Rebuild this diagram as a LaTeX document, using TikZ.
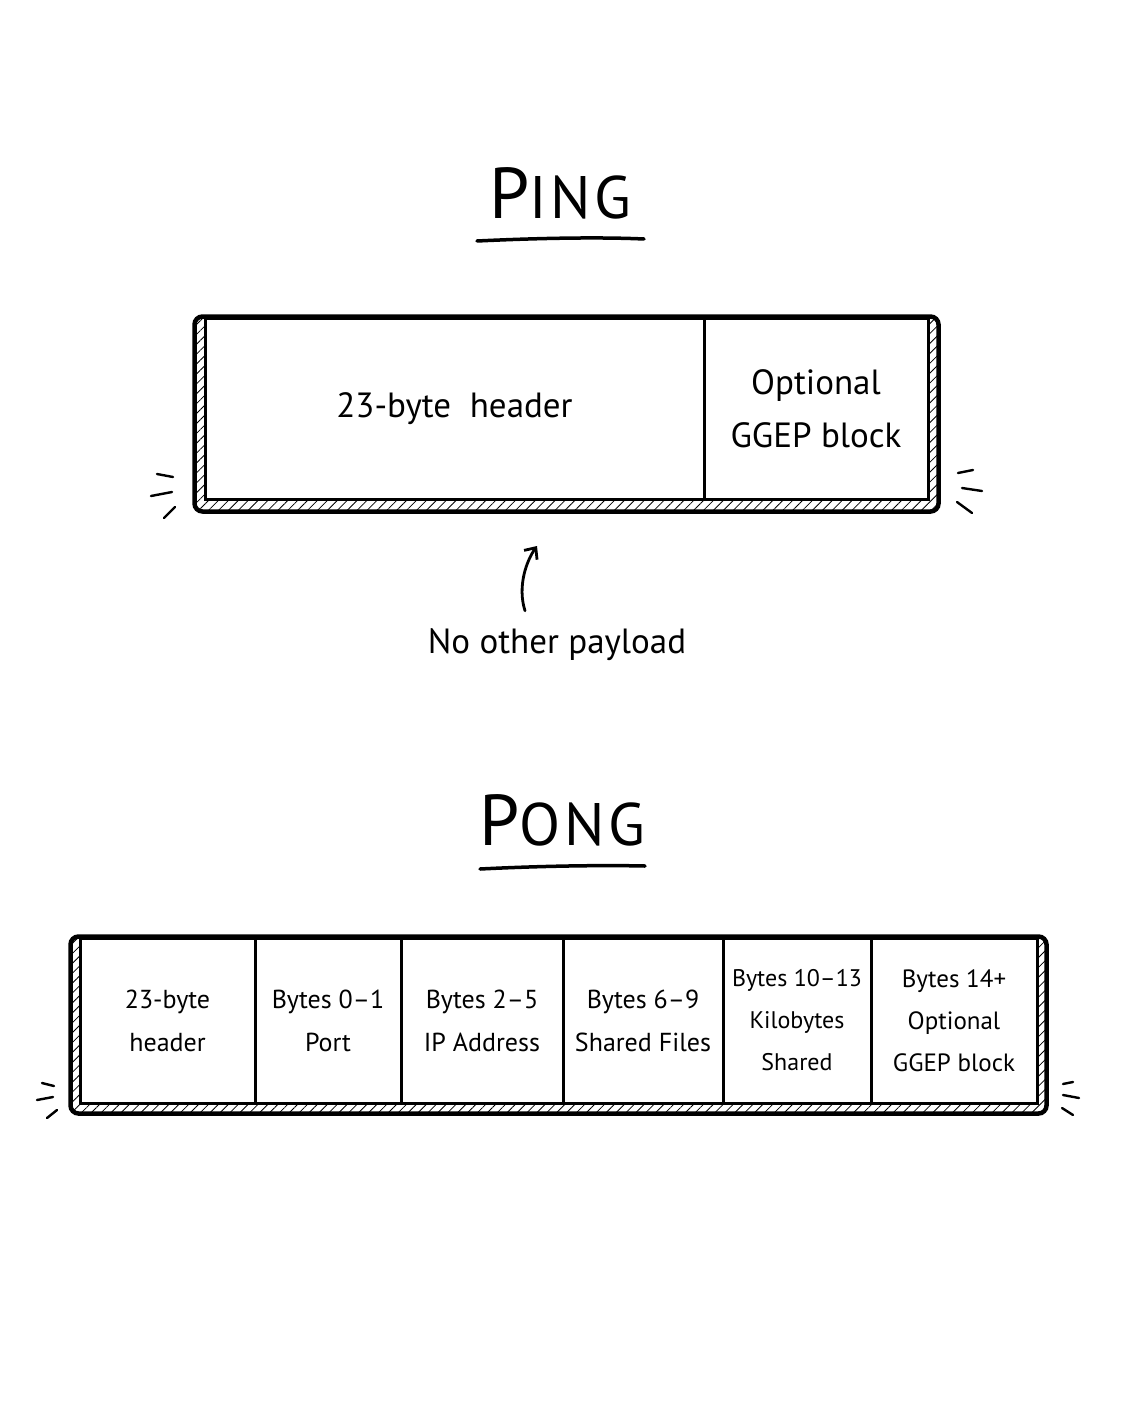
\documentclass[tikz,border=0pt]{standalone}
\usepackage{fontspec}
\setmainfont{PT Sans}
\usetikzlibrary{arrows.meta, patterns.meta, backgrounds}

\tikzset{
    cell/.style={shape=rectangle, draw=black, fill=white, line width=3pt, inner sep=0pt, align=center},
    pingcell/.style={cell, minimum height=181pt, font=\fontsize{35}{53}\selectfont},
    pongcell/.style={cell, minimum height=165pt, font=\fontsize{26}{43}\selectfont},
    rim/.style={draw=black, line width=4.5pt, rounded corners=8pt, pattern={Lines[angle=45, distance=7pt, line width=0.8pt]}},
    heading/.style={shape=rectangle, inner sep=0pt, anchor=base, font=\addfontfeatures{LetterSpace=6}},
    flick/.style={draw=black, line width=2.4pt, line cap=round},
    underline/.style={draw=black, line width=3.5pt, line cap=round},
}

\begin{document}
\begin{tikzpicture}[x=1pt, y=-1pt]
        \useasboundingbox (0, 0) rectangle (1122, 1402);
        % ping message
        \node[name=pingttl, heading] at (560, 218) {\fontsize{72}{72}\selectfont P\fontsize{60}{60}\selectfont ING};
        \draw[underline] (477, 241) .. controls (540, 238) and (600, 237) .. (644, 239);
        \node[name=pinghdr, pingcell, minimum width=499pt] at (454.5, 408.5) {23-byte\ \ header};
        \node[name=pingggep, pingcell, minimum width=224pt] at (816, 408.5) {Optional\\GGEP block};
        \begin{scope}[on background layer]
            \draw[rim] ([xshift=-9pt]pinghdr.north west) rectangle ([xshift=9pt, yshift=-11pt]pingggep.south east);
        \end{scope}
        \draw[flick] (157, 474) -- (173, 477);
        \draw[flick] (151, 496) -- (172, 492);
        \draw[flick] (164, 518) -- (175, 507);
        \draw[flick] (958, 473) -- (973, 470);
        \draw[flick] (962, 488) -- (982, 491);
        \draw[flick] (957, 502) -- (972, 513);
        \node[name=nopay, font=\fontsize{35}{35}\selectfont, inner sep=0pt] at (557, 645) {No other payload};
        \coordinate (nopaytip) at (537, 546);
        \draw[-{Straight Barb[length=9pt, width=16pt]}, line width=2.8pt, line cap=round] ([xshift=-32pt, yshift=18pt]nopay.north) .. controls +(-8, -25) and +(-10, 14) .. (nopaytip);
        % \node[name=nopay, font=\fontsize{31}{31}\selectfont] at (455, 560) {No other payload};
        % pong message
        \node[name=pongttl, heading] at (562, 845) {\fontsize{72}{72}\selectfont P\fontsize{60}{60}\selectfont ONG};
        \draw[underline] (480, 869) .. controls (540, 866) and (600, 865) .. (645, 866);
        \node[name=ponghdr, pongcell, minimum width=175pt] at (167.5, 1020.5) {23-byte\\header};
        \node[name=pongport, pongcell, minimum width=146pt] at (328, 1020.5) {Bytes 0--1\\Port};
        \node[name=pongip, pongcell, minimum width=162pt] at (482, 1020.5) {Bytes 2--5\\IP Address};
        \node[name=pongfiles, pongcell, minimum width=160pt] at (643, 1020.5) {Bytes 6--9\\Shared Files};
        \node[name=pongkb, pongcell, minimum width=148pt, font=\fontsize{24}{42}\selectfont] at (797, 1020.5) {Bytes 10--13\\Kilobytes\\Shared};
        \node[name=pongggep, pongcell, minimum width=166pt, font=\fontsize{25}{42}\selectfont] at (954, 1020.5) {Bytes 14+\\Optional\\GGEP block};
        \begin{scope}[on background layer]
            \draw[rim] ([xshift=-8pt]ponghdr.north west) rectangle ([xshift=8pt, yshift=-9pt]pongggep.south east);
        \end{scope}
        \draw[flick] (42, 1083) -- (54, 1086);
        \draw[flick] (37, 1100) -- (53, 1097);
        \draw[flick] (47, 1118) -- (57, 1110);
        \draw[flick] (1063, 1084) -- (1073, 1082);
        \draw[flick] (1063, 1095) -- (1079, 1098);
        \draw[flick] (1062, 1108) -- (1073, 1115);
\end{tikzpicture}
\end{document}
